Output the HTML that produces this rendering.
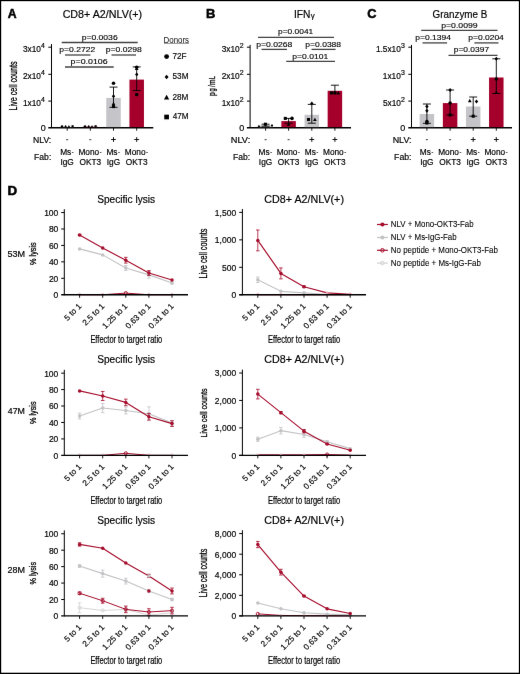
<!DOCTYPE html>
<html><head><meta charset="utf-8"><style>
html,body{margin:0;padding:0;background:#fff;}
#w{position:relative;width:520px;height:674px;overflow:hidden;}
#w svg{position:absolute;left:0;top:0;display:block;}
text{font-family:"Liberation Sans",sans-serif;}
</style></head><body>
<div id="w">
<svg id="m" width="520" height="674" viewBox="0 0 520 674">
<defs><filter id="f" x="0" y="0" width="520" height="674" filterUnits="userSpaceOnUse" color-interpolation-filters="sRGB"><feConvolveMatrix order="3" kernelMatrix="0.00163 0.03713 0.00163 0.03713 0.84497 0.03713 0.00163 0.03713 0.00163" divisor="1" edgeMode="none" preserveAlpha="false"/></filter></defs>
<rect width="520" height="674" fill="#fff"/>
<g filter="url(#f)">
<text x="7.89" y="18.40" font-size="12" font-weight="bold" stroke="#000" stroke-width="0.5" textLength="8.83" lengthAdjust="spacingAndGlyphs" fill="#000">A</text>
<text x="206.13" y="18.30" font-size="12" font-weight="bold" stroke="#000" stroke-width="0.5" textLength="9.35" lengthAdjust="spacingAndGlyphs" fill="#000">B</text>
<text x="367.28" y="18.40" font-size="12" font-weight="bold" stroke="#000" stroke-width="0.5" textLength="9.17" lengthAdjust="spacingAndGlyphs" fill="#000">C</text>
<text x="7.40" y="194.90" font-size="12" font-weight="bold" stroke="#000" stroke-width="0.5" textLength="9.66" lengthAdjust="spacingAndGlyphs" fill="#000">D</text>
<text x="62.65" y="17.90" font-size="10.3" stroke="#000" stroke-width="0.18" textLength="79.51" lengthAdjust="spacingAndGlyphs" fill="#000">CD8+ A2/NLV(+)</text>
<text transform="translate(16.60,109.90) rotate(-90)" x="-0.59" y="0" font-size="10.3" stroke="#000" stroke-width="0.3" textLength="49.15" lengthAdjust="spacingAndGlyphs" fill="#000">Live cell counts</text>
<line x1="51.50" y1="44.10" x2="51.50" y2="128.10" stroke="#000" stroke-width="1.0"/>
<line x1="48.30" y1="127.75" x2="153.30" y2="127.75" stroke="#000" stroke-width="1.3"/>
<line x1="48.30" y1="101.10" x2="51.50" y2="101.10" stroke="#000" stroke-width="1.0"/>
<line x1="48.30" y1="74.30" x2="51.50" y2="74.30" stroke="#000" stroke-width="1.0"/>
<line x1="48.30" y1="47.20" x2="51.50" y2="47.20" stroke="#000" stroke-width="1.0"/>
<line x1="67.20" y1="127.75" x2="67.20" y2="130.70" stroke="#000" stroke-width="0.9"/>
<line x1="90.30" y1="127.75" x2="90.30" y2="130.70" stroke="#000" stroke-width="0.9"/>
<line x1="113.50" y1="127.75" x2="113.50" y2="130.70" stroke="#000" stroke-width="0.9"/>
<line x1="136.70" y1="127.75" x2="136.70" y2="130.70" stroke="#000" stroke-width="0.9"/>
<text x="40.65" y="130.80" font-size="9.0" stroke="#000" stroke-width="0.18" textLength="5.01" lengthAdjust="spacingAndGlyphs" fill="#000">0</text>
<text x="41.11" y="102.10" font-size="7.0" stroke="#000" stroke-width="0.18" textLength="3.89" lengthAdjust="spacingAndGlyphs" fill="#000">4</text>
<text x="22.90" y="105.50" font-size="8.3" stroke="#000" stroke-width="0.18" textLength="18.00" lengthAdjust="spacingAndGlyphs" fill="#000">1x10</text>
<text x="41.11" y="75.30" font-size="7.0" stroke="#000" stroke-width="0.18" textLength="3.89" lengthAdjust="spacingAndGlyphs" fill="#000">4</text>
<text x="22.90" y="78.70" font-size="8.3" stroke="#000" stroke-width="0.18" textLength="18.00" lengthAdjust="spacingAndGlyphs" fill="#000">2x10</text>
<text x="41.11" y="48.20" font-size="7.0" stroke="#000" stroke-width="0.18" textLength="3.89" lengthAdjust="spacingAndGlyphs" fill="#000">4</text>
<text x="22.90" y="51.60" font-size="8.3" stroke="#000" stroke-width="0.18" textLength="18.00" lengthAdjust="spacingAndGlyphs" fill="#000">3x10</text>
<rect x="59.95" y="126.90" width="14.50" height="0.20" fill="#c5c4c9"/>
<rect x="83.05" y="126.70" width="14.50" height="0.40" fill="#a5002c"/>
<rect x="106.25" y="97.90" width="14.50" height="29.20" fill="#c5c4c9"/>
<rect x="129.45" y="79.60" width="14.50" height="47.50" fill="#a5002c"/>
<line x1="113.50" y1="87.10" x2="113.50" y2="107.30" stroke="#000" stroke-width="0.9"/>
<line x1="109.50" y1="87.10" x2="117.50" y2="87.10" stroke="#000" stroke-width="0.9"/>
<line x1="109.50" y1="107.30" x2="117.50" y2="107.30" stroke="#000" stroke-width="0.9"/>
<line x1="136.70" y1="66.90" x2="136.70" y2="90.60" stroke="#000" stroke-width="0.9"/>
<line x1="132.70" y1="66.90" x2="140.70" y2="66.90" stroke="#000" stroke-width="0.9"/>
<line x1="132.70" y1="90.60" x2="140.70" y2="90.60" stroke="#000" stroke-width="0.9"/>
<circle cx="113.50" cy="83.20" r="1.785" fill="#000" stroke="none" stroke-width="0"/>
<path d="M113.50 94.25L115.20 96.20L113.50 98.16L111.80 96.20Z" fill="#000"/>
<path d="M113.50 101.73L115.37 105.13L111.63 105.13Z" fill="#000"/>
<rect x="111.97" y="105.07" width="3.06" height="3.06" fill="#000"/>
<circle cx="136.70" cy="67.20" r="1.785" fill="#000" stroke="none" stroke-width="0"/>
<path d="M136.70 72.45L138.40 74.40L136.70 76.36L135.00 74.40Z" fill="#000"/>
<rect x="135.17" y="93.07" width="3.06" height="3.06" fill="#000"/>
<path d="M136.70 66.63L138.57 70.03L134.83 70.03Z" fill="#000"/>
<circle cx="62.00" cy="126.40" r="1.26" fill="#000" stroke="none" stroke-width="0"/>
<path d="M65.60 125.02L66.80 126.40L65.60 127.78L64.40 126.40Z" fill="#000"/>
<path d="M68.90 124.98L70.22 127.38L67.58 127.38Z" fill="#000"/>
<rect x="71.52" y="125.22" width="2.16" height="2.16" fill="#000"/>
<circle cx="85.00" cy="126.40" r="1.26" fill="#000" stroke="none" stroke-width="0"/>
<path d="M88.70 125.02L89.90 126.40L88.70 127.78L87.50 126.40Z" fill="#000"/>
<path d="M92.00 124.98L93.32 127.38L90.68 127.38Z" fill="#000"/>
<rect x="94.52" y="125.22" width="2.16" height="2.16" fill="#000"/>
<text x="81.65" y="39.60" font-size="8.0" stroke="#000" stroke-width="0.14" textLength="36.02" lengthAdjust="spacingAndGlyphs" fill="#000">p=0.0036</text>
<line x1="61.70" y1="42.50" x2="137.70" y2="42.50" stroke="#444" stroke-width="1.3"/>
<text x="59.35" y="51.70" font-size="8.0" stroke="#000" stroke-width="0.14" textLength="35.87" lengthAdjust="spacingAndGlyphs" fill="#000">p=0.2722</text>
<line x1="65.00" y1="55.00" x2="90.40" y2="55.00" stroke="#444" stroke-width="1.3"/>
<text x="105.75" y="51.70" font-size="8.0" stroke="#000" stroke-width="0.14" textLength="35.91" lengthAdjust="spacingAndGlyphs" fill="#000">p=0.0298</text>
<line x1="111.50" y1="55.00" x2="136.00" y2="55.00" stroke="#444" stroke-width="1.3"/>
<text x="70.64" y="63.90" font-size="8.0" stroke="#000" stroke-width="0.14" textLength="36.95" lengthAdjust="spacingAndGlyphs" fill="#000">p=0.0106</text>
<line x1="65.00" y1="67.00" x2="113.70" y2="67.00" stroke="#444" stroke-width="1.3"/>
<line x1="66.20" y1="139.70" x2="68.20" y2="139.70" stroke="#000" stroke-width="0.8"/>
<line x1="89.30" y1="139.70" x2="91.30" y2="139.70" stroke="#000" stroke-width="0.8"/>
<line x1="111.10" y1="139.50" x2="115.90" y2="139.50" stroke="#000" stroke-width="0.9"/>
<line x1="113.50" y1="137.10" x2="113.50" y2="141.90" stroke="#000" stroke-width="0.9"/>
<line x1="134.30" y1="139.50" x2="139.10" y2="139.50" stroke="#000" stroke-width="0.9"/>
<line x1="136.70" y1="137.10" x2="136.70" y2="141.90" stroke="#000" stroke-width="0.9"/>
<text x="60.13" y="155.00" font-size="8.3" stroke="#000" stroke-width="0.18" textLength="11.06" lengthAdjust="spacingAndGlyphs" fill="#000">Ms</text>
<line x1="71.89" y1="152.50" x2="73.49" y2="152.50" stroke="#222" stroke-width="0.75"/>
<text x="60.44" y="164.90" font-size="8.3" stroke="#000" stroke-width="0.18" textLength="13.38" lengthAdjust="spacingAndGlyphs" fill="#000">IgG</text>
<text x="78.38" y="155.00" font-size="8.3" stroke="#000" stroke-width="0.18" textLength="20.76" lengthAdjust="spacingAndGlyphs" fill="#000">Mono</text>
<line x1="99.84" y1="152.50" x2="101.44" y2="152.50" stroke="#222" stroke-width="0.75"/>
<text x="79.45" y="164.90" font-size="8.3" stroke="#000" stroke-width="0.18" textLength="21.68" lengthAdjust="spacingAndGlyphs" fill="#000">OKT3</text>
<text x="106.43" y="155.00" font-size="8.3" stroke="#000" stroke-width="0.18" textLength="11.06" lengthAdjust="spacingAndGlyphs" fill="#000">Ms</text>
<line x1="118.19" y1="152.50" x2="119.79" y2="152.50" stroke="#222" stroke-width="0.75"/>
<text x="106.74" y="164.90" font-size="8.3" stroke="#000" stroke-width="0.18" textLength="13.38" lengthAdjust="spacingAndGlyphs" fill="#000">IgG</text>
<text x="124.78" y="155.00" font-size="8.3" stroke="#000" stroke-width="0.18" textLength="20.76" lengthAdjust="spacingAndGlyphs" fill="#000">Mono</text>
<line x1="146.24" y1="152.50" x2="147.84" y2="152.50" stroke="#222" stroke-width="0.75"/>
<text x="125.85" y="164.90" font-size="8.3" stroke="#000" stroke-width="0.18" textLength="21.68" lengthAdjust="spacingAndGlyphs" fill="#000">OKT3</text>
<text x="33.09" y="142.50" font-size="8.3" stroke="#000" stroke-width="0.18" textLength="18.19" lengthAdjust="spacingAndGlyphs" fill="#000">NLV:</text>
<text x="34.10" y="159.90" font-size="8.3" stroke="#000" stroke-width="0.18" textLength="17.19" lengthAdjust="spacingAndGlyphs" fill="#000">Fab:</text>
<text x="163.55" y="42.50" font-size="8.2" stroke="#222" stroke-width="0.05" textLength="25.53" lengthAdjust="spacingAndGlyphs" fill="#222">Donors</text>
<line x1="164.00" y1="43.40" x2="189.00" y2="43.40" stroke="#777" stroke-width="0.8"/>
<circle cx="166.60" cy="56.60" r="2.415" fill="#000" stroke="none" stroke-width="0"/>
<text x="172.48" y="58.90" font-size="8.2" stroke="#000" stroke-width="0.15" textLength="14.13" lengthAdjust="spacingAndGlyphs" fill="#000">72F</text>
<path d="M166.60 74.66L168.55 76.90L166.60 79.14L164.65 76.90Z" fill="#000"/>
<text x="172.57" y="79.20" font-size="8.2" stroke="#000" stroke-width="0.15" textLength="15.95" lengthAdjust="spacingAndGlyphs" fill="#000">53M</text>
<path d="M166.60 94.66L169.24 99.46L163.96 99.46Z" fill="#000"/>
<text x="172.49" y="99.60" font-size="8.2" stroke="#000" stroke-width="0.15" textLength="15.95" lengthAdjust="spacingAndGlyphs" fill="#000">28M</text>
<rect x="164.26" y="114.66" width="4.68" height="4.68" fill="#000"/>
<text x="172.71" y="119.30" font-size="8.2" stroke="#000" stroke-width="0.15" textLength="15.95" lengthAdjust="spacingAndGlyphs" fill="#000">47M</text>
<text x="293.96" y="18.00" font-size="10.4" stroke="#000" stroke-width="0.18" textLength="16.47" lengthAdjust="spacingAndGlyphs" fill="#000">IFN</text>
<text x="310.77" y="18.20" font-size="7.6" stroke="#000" stroke-width="0.18" textLength="3.96" lengthAdjust="spacingAndGlyphs" fill="#000">γ</text>
<text transform="translate(215.10,95.60) rotate(-90)" x="-0.43" y="0" font-size="9.6" stroke="#000" stroke-width="0.3" textLength="3.71" lengthAdjust="spacingAndGlyphs" fill="#000">p</text>
<text transform="translate(215.10,91.30) rotate(-90)" x="-0.24" y="0" font-size="9.6" stroke="#000" stroke-width="0.3" textLength="3.21" lengthAdjust="spacingAndGlyphs" fill="#000">g</text>
<text transform="translate(215.10,86.90) rotate(-90)" x="-0.00" y="0" font-size="9.6" stroke="#000" stroke-width="0.3" textLength="1.70" lengthAdjust="spacingAndGlyphs" fill="#000">/</text>
<text transform="translate(215.10,84.70) rotate(-90)" x="-0.43" y="0" font-size="9.6" stroke="#000" stroke-width="0.3" textLength="5.47" lengthAdjust="spacingAndGlyphs" fill="#000">m</text>
<text transform="translate(215.10,78.60) rotate(-90)" x="-0.43" y="0" font-size="9.6" stroke="#000" stroke-width="0.3" textLength="2.90" lengthAdjust="spacingAndGlyphs" fill="#000">L</text>
<line x1="250.10" y1="44.90" x2="250.10" y2="128.10" stroke="#000" stroke-width="1.0"/>
<line x1="246.90" y1="127.75" x2="351.00" y2="127.75" stroke="#000" stroke-width="1.3"/>
<line x1="246.90" y1="101.10" x2="250.10" y2="101.10" stroke="#000" stroke-width="1.0"/>
<line x1="246.90" y1="74.30" x2="250.10" y2="74.30" stroke="#000" stroke-width="1.0"/>
<line x1="246.90" y1="47.20" x2="250.10" y2="47.20" stroke="#000" stroke-width="1.0"/>
<line x1="265.60" y1="127.75" x2="265.60" y2="130.70" stroke="#000" stroke-width="0.9"/>
<line x1="288.60" y1="127.75" x2="288.60" y2="130.70" stroke="#000" stroke-width="0.9"/>
<line x1="311.80" y1="127.75" x2="311.80" y2="130.70" stroke="#000" stroke-width="0.9"/>
<line x1="334.90" y1="127.75" x2="334.90" y2="130.70" stroke="#000" stroke-width="0.9"/>
<text x="239.15" y="130.80" font-size="9.0" stroke="#000" stroke-width="0.18" textLength="5.01" lengthAdjust="spacingAndGlyphs" fill="#000">0</text>
<text x="239.76" y="102.10" font-size="7.0" stroke="#000" stroke-width="0.18" textLength="3.89" lengthAdjust="spacingAndGlyphs" fill="#000">2</text>
<text x="221.74" y="105.50" font-size="8.3" stroke="#000" stroke-width="0.18" textLength="18.00" lengthAdjust="spacingAndGlyphs" fill="#000">1x10</text>
<text x="239.76" y="75.30" font-size="7.0" stroke="#000" stroke-width="0.18" textLength="3.89" lengthAdjust="spacingAndGlyphs" fill="#000">2</text>
<text x="221.74" y="78.70" font-size="8.3" stroke="#000" stroke-width="0.18" textLength="18.00" lengthAdjust="spacingAndGlyphs" fill="#000">2x10</text>
<text x="239.76" y="48.20" font-size="7.0" stroke="#000" stroke-width="0.18" textLength="3.89" lengthAdjust="spacingAndGlyphs" fill="#000">2</text>
<text x="221.74" y="51.60" font-size="8.3" stroke="#000" stroke-width="0.18" textLength="18.00" lengthAdjust="spacingAndGlyphs" fill="#000">3x10</text>
<rect x="258.35" y="125.40" width="14.50" height="1.70" fill="#c5c4c9"/>
<rect x="281.35" y="121.10" width="14.50" height="6.00" fill="#a5002c"/>
<rect x="304.55" y="114.80" width="14.50" height="12.30" fill="#c5c4c9"/>
<rect x="327.65" y="90.80" width="14.50" height="36.30" fill="#a5002c"/>
<line x1="265.60" y1="124.20" x2="265.60" y2="126.20" stroke="#000" stroke-width="0.9"/>
<line x1="261.60" y1="124.20" x2="269.60" y2="124.20" stroke="#000" stroke-width="0.9"/>
<line x1="261.60" y1="126.20" x2="269.60" y2="126.20" stroke="#000" stroke-width="0.9"/>
<line x1="288.60" y1="118.40" x2="288.60" y2="123.20" stroke="#000" stroke-width="0.9"/>
<line x1="284.60" y1="118.40" x2="292.60" y2="118.40" stroke="#000" stroke-width="0.9"/>
<line x1="284.60" y1="123.20" x2="292.60" y2="123.20" stroke="#000" stroke-width="0.9"/>
<line x1="311.80" y1="104.40" x2="311.80" y2="123.20" stroke="#000" stroke-width="0.9"/>
<line x1="307.80" y1="104.40" x2="315.80" y2="104.40" stroke="#000" stroke-width="0.9"/>
<line x1="307.80" y1="123.20" x2="315.80" y2="123.20" stroke="#000" stroke-width="0.9"/>
<line x1="334.90" y1="85.20" x2="334.90" y2="93.20" stroke="#000" stroke-width="0.9"/>
<line x1="330.90" y1="85.20" x2="338.90" y2="85.20" stroke="#000" stroke-width="0.9"/>
<path d="M258.90 124.68L260.22 127.08L257.58 127.08Z" fill="#000"/>
<rect x="263.87" y="122.67" width="3.06" height="3.06" fill="#000"/>
<path d="M272.00 124.12L273.20 125.50L272.00 126.88L270.80 125.50Z" fill="#000"/>
<rect x="283.77" y="116.87" width="3.06" height="3.06" fill="#000"/>
<circle cx="292.00" cy="118.40" r="1.785" fill="#000" stroke="none" stroke-width="0"/>
<path d="M288.60 122.33L290.47 125.73L286.73 125.73Z" fill="#000"/>
<path d="M311.80 101.55L313.50 103.50L311.80 105.45L310.10 103.50Z" fill="#000"/>
<rect x="306.97" y="117.97" width="3.06" height="3.06" fill="#000"/>
<path d="M314.90 117.63L316.77 121.03L313.03 121.03Z" fill="#000"/>
<rect x="329.97" y="91.37" width="3.06" height="3.06" fill="#000"/>
<circle cx="334.90" cy="92.90" r="1.785" fill="#000" stroke="none" stroke-width="0"/>
<path d="M338.30 91.03L340.17 94.43L336.43 94.43Z" fill="#000"/>
<text x="278.06" y="34.40" font-size="8.0" stroke="#000" stroke-width="0.14" textLength="35.25" lengthAdjust="spacingAndGlyphs" fill="#000">p=0.0041</text>
<line x1="258.00" y1="37.30" x2="334.00" y2="37.30" stroke="#444" stroke-width="1.3"/>
<text x="256.25" y="46.90" font-size="8.0" stroke="#000" stroke-width="0.14" textLength="36.02" lengthAdjust="spacingAndGlyphs" fill="#000">p=0.0268</text>
<line x1="261.50" y1="49.40" x2="287.00" y2="49.40" stroke="#444" stroke-width="1.3"/>
<text x="305.36" y="46.90" font-size="8.0" stroke="#000" stroke-width="0.14" textLength="35.71" lengthAdjust="spacingAndGlyphs" fill="#000">p=0.0388</text>
<line x1="311.50" y1="49.40" x2="335.60" y2="49.40" stroke="#444" stroke-width="1.3"/>
<text x="292.25" y="58.70" font-size="8.0" stroke="#000" stroke-width="0.14" textLength="35.97" lengthAdjust="spacingAndGlyphs" fill="#000">p=0.0101</text>
<line x1="286.20" y1="61.30" x2="335.00" y2="61.30" stroke="#444" stroke-width="1.3"/>
<line x1="264.60" y1="139.70" x2="266.60" y2="139.70" stroke="#000" stroke-width="0.8"/>
<line x1="287.60" y1="139.70" x2="289.60" y2="139.70" stroke="#000" stroke-width="0.8"/>
<line x1="309.40" y1="139.50" x2="314.20" y2="139.50" stroke="#000" stroke-width="0.9"/>
<line x1="311.80" y1="137.10" x2="311.80" y2="141.90" stroke="#000" stroke-width="0.9"/>
<line x1="332.50" y1="139.50" x2="337.30" y2="139.50" stroke="#000" stroke-width="0.9"/>
<line x1="334.90" y1="137.10" x2="334.90" y2="141.90" stroke="#000" stroke-width="0.9"/>
<text x="258.53" y="155.00" font-size="8.3" stroke="#000" stroke-width="0.18" textLength="11.06" lengthAdjust="spacingAndGlyphs" fill="#000">Ms</text>
<line x1="270.29" y1="152.50" x2="271.89" y2="152.50" stroke="#222" stroke-width="0.75"/>
<text x="258.84" y="164.90" font-size="8.3" stroke="#000" stroke-width="0.18" textLength="13.38" lengthAdjust="spacingAndGlyphs" fill="#000">IgG</text>
<text x="276.68" y="155.00" font-size="8.3" stroke="#000" stroke-width="0.18" textLength="20.76" lengthAdjust="spacingAndGlyphs" fill="#000">Mono</text>
<line x1="298.14" y1="152.50" x2="299.74" y2="152.50" stroke="#222" stroke-width="0.75"/>
<text x="277.75" y="164.90" font-size="8.3" stroke="#000" stroke-width="0.18" textLength="21.68" lengthAdjust="spacingAndGlyphs" fill="#000">OKT3</text>
<text x="304.73" y="155.00" font-size="8.3" stroke="#000" stroke-width="0.18" textLength="11.06" lengthAdjust="spacingAndGlyphs" fill="#000">Ms</text>
<line x1="316.49" y1="152.50" x2="318.09" y2="152.50" stroke="#222" stroke-width="0.75"/>
<text x="305.04" y="164.90" font-size="8.3" stroke="#000" stroke-width="0.18" textLength="13.38" lengthAdjust="spacingAndGlyphs" fill="#000">IgG</text>
<text x="322.98" y="155.00" font-size="8.3" stroke="#000" stroke-width="0.18" textLength="20.76" lengthAdjust="spacingAndGlyphs" fill="#000">Mono</text>
<line x1="344.44" y1="152.50" x2="346.04" y2="152.50" stroke="#222" stroke-width="0.75"/>
<text x="324.05" y="164.90" font-size="8.3" stroke="#000" stroke-width="0.18" textLength="21.68" lengthAdjust="spacingAndGlyphs" fill="#000">OKT3</text>
<text x="230.74" y="142.50" font-size="8.3" stroke="#000" stroke-width="0.18" textLength="19.50" lengthAdjust="spacingAndGlyphs" fill="#000">NLV:</text>
<text x="233.10" y="159.90" font-size="8.3" stroke="#000" stroke-width="0.18" textLength="17.08" lengthAdjust="spacingAndGlyphs" fill="#000">Fab:</text>
<text x="432.61" y="18.40" font-size="10.3" stroke="#000" stroke-width="0.18" textLength="54.72" lengthAdjust="spacingAndGlyphs" fill="#000">Granzyme B</text>
<line x1="411.50" y1="44.90" x2="411.50" y2="128.10" stroke="#000" stroke-width="1.0"/>
<line x1="408.30" y1="127.75" x2="512.00" y2="127.75" stroke="#000" stroke-width="1.3"/>
<line x1="408.30" y1="101.10" x2="411.50" y2="101.10" stroke="#000" stroke-width="1.0"/>
<line x1="408.30" y1="74.30" x2="411.50" y2="74.30" stroke="#000" stroke-width="1.0"/>
<line x1="408.30" y1="47.20" x2="411.50" y2="47.20" stroke="#000" stroke-width="1.0"/>
<line x1="426.90" y1="127.75" x2="426.90" y2="130.70" stroke="#000" stroke-width="0.9"/>
<line x1="450.10" y1="127.75" x2="450.10" y2="130.70" stroke="#000" stroke-width="0.9"/>
<line x1="473.20" y1="127.75" x2="473.20" y2="130.70" stroke="#000" stroke-width="0.9"/>
<line x1="496.30" y1="127.75" x2="496.30" y2="130.70" stroke="#000" stroke-width="0.9"/>
<text x="400.35" y="130.80" font-size="9.0" stroke="#000" stroke-width="0.18" textLength="5.01" lengthAdjust="spacingAndGlyphs" fill="#000">0</text>
<text x="400.96" y="102.10" font-size="7.0" stroke="#000" stroke-width="0.18" textLength="3.89" lengthAdjust="spacingAndGlyphs" fill="#000">2</text>
<text x="382.94" y="105.50" font-size="8.3" stroke="#000" stroke-width="0.18" textLength="18.00" lengthAdjust="spacingAndGlyphs" fill="#000">5x10</text>
<text x="400.92" y="75.30" font-size="7.0" stroke="#000" stroke-width="0.18" textLength="3.89" lengthAdjust="spacingAndGlyphs" fill="#000">3</text>
<text x="382.81" y="78.70" font-size="8.3" stroke="#000" stroke-width="0.18" textLength="18.00" lengthAdjust="spacingAndGlyphs" fill="#000">1x10</text>
<text x="400.92" y="48.20" font-size="7.0" stroke="#000" stroke-width="0.18" textLength="3.89" lengthAdjust="spacingAndGlyphs" fill="#000">3</text>
<text x="375.89" y="51.60" font-size="8.3" stroke="#000" stroke-width="0.18" textLength="24.92" lengthAdjust="spacingAndGlyphs" fill="#000">1.5x10</text>
<rect x="419.65" y="114.00" width="14.50" height="13.10" fill="#c5c4c9"/>
<rect x="442.85" y="103.10" width="14.50" height="24.00" fill="#a5002c"/>
<rect x="465.95" y="106.50" width="14.50" height="20.60" fill="#c5c4c9"/>
<rect x="489.05" y="77.50" width="14.50" height="49.60" fill="#a5002c"/>
<line x1="426.90" y1="104.00" x2="426.90" y2="123.30" stroke="#000" stroke-width="0.9"/>
<line x1="422.90" y1="104.00" x2="430.90" y2="104.00" stroke="#000" stroke-width="0.9"/>
<line x1="422.90" y1="123.30" x2="430.90" y2="123.30" stroke="#000" stroke-width="0.9"/>
<line x1="450.10" y1="90.00" x2="450.10" y2="115.00" stroke="#000" stroke-width="0.9"/>
<line x1="446.10" y1="90.00" x2="454.10" y2="90.00" stroke="#000" stroke-width="0.9"/>
<line x1="446.10" y1="115.00" x2="454.10" y2="115.00" stroke="#000" stroke-width="0.9"/>
<line x1="473.20" y1="97.00" x2="473.20" y2="116.20" stroke="#000" stroke-width="0.9"/>
<line x1="469.20" y1="97.00" x2="477.20" y2="97.00" stroke="#000" stroke-width="0.9"/>
<line x1="469.20" y1="116.20" x2="477.20" y2="116.20" stroke="#000" stroke-width="0.9"/>
<line x1="496.30" y1="58.80" x2="496.30" y2="93.50" stroke="#000" stroke-width="0.9"/>
<line x1="492.30" y1="58.80" x2="500.30" y2="58.80" stroke="#000" stroke-width="0.9"/>
<line x1="492.30" y1="93.50" x2="500.30" y2="93.50" stroke="#000" stroke-width="0.9"/>
<path d="M426.90 104.55L428.60 106.50L426.90 108.45L425.20 106.50Z" fill="#000"/>
<path d="M426.90 108.84L428.60 110.80L426.90 112.75L425.20 110.80Z" fill="#000"/>
<rect x="425.37" y="121.47" width="3.06" height="3.06" fill="#000"/>
<circle cx="426.90" cy="121.50" r="1.785" fill="#000" stroke="none" stroke-width="0"/>
<circle cx="450.10" cy="103.00" r="1.785" fill="#000" stroke="none" stroke-width="0"/>
<path d="M450.10 88.05L451.80 90.00L450.10 91.95L448.40 90.00Z" fill="#000"/>
<rect x="448.57" y="113.47" width="3.06" height="3.06" fill="#000"/>
<path d="M469.80 98.73L471.67 102.13L467.93 102.13Z" fill="#000"/>
<path d="M476.50 99.55L478.20 101.50L476.50 103.45L474.80 101.50Z" fill="#000"/>
<rect x="471.67" y="114.67" width="3.06" height="3.06" fill="#000"/>
<circle cx="496.30" cy="79.00" r="1.785" fill="#000" stroke="none" stroke-width="0"/>
<path d="M496.30 90.63L498.17 94.03L494.43 94.03Z" fill="#000"/>
<path d="M496.30 56.84L498.00 58.80L496.30 60.75L494.60 58.80Z" fill="#000"/>
<text x="441.25" y="27.70" font-size="8.0" stroke="#000" stroke-width="0.14" textLength="36.36" lengthAdjust="spacingAndGlyphs" fill="#000">p=0.0099</text>
<line x1="421.20" y1="30.40" x2="497.50" y2="30.40" stroke="#444" stroke-width="1.3"/>
<text x="415.36" y="40.00" font-size="8.0" stroke="#000" stroke-width="0.14" textLength="35.59" lengthAdjust="spacingAndGlyphs" fill="#000">p=0.1394</text>
<line x1="422.50" y1="42.90" x2="447.10" y2="42.90" stroke="#444" stroke-width="1.3"/>
<text x="468.26" y="40.00" font-size="8.0" stroke="#000" stroke-width="0.14" textLength="35.59" lengthAdjust="spacingAndGlyphs" fill="#000">p=0.0204</text>
<line x1="474.40" y1="42.90" x2="498.50" y2="42.90" stroke="#444" stroke-width="1.3"/>
<text x="453.76" y="51.70" font-size="8.0" stroke="#000" stroke-width="0.14" textLength="35.36" lengthAdjust="spacingAndGlyphs" fill="#000">p=0.0397</text>
<line x1="448.50" y1="55.40" x2="497.50" y2="55.40" stroke="#444" stroke-width="1.3"/>
<line x1="425.90" y1="139.70" x2="427.90" y2="139.70" stroke="#000" stroke-width="0.8"/>
<line x1="449.10" y1="139.70" x2="451.10" y2="139.70" stroke="#000" stroke-width="0.8"/>
<line x1="470.80" y1="139.50" x2="475.60" y2="139.50" stroke="#000" stroke-width="0.9"/>
<line x1="473.20" y1="137.10" x2="473.20" y2="141.90" stroke="#000" stroke-width="0.9"/>
<line x1="493.90" y1="139.50" x2="498.70" y2="139.50" stroke="#000" stroke-width="0.9"/>
<line x1="496.30" y1="137.10" x2="496.30" y2="141.90" stroke="#000" stroke-width="0.9"/>
<text x="419.83" y="155.00" font-size="8.3" stroke="#000" stroke-width="0.18" textLength="11.06" lengthAdjust="spacingAndGlyphs" fill="#000">Ms</text>
<line x1="431.59" y1="152.50" x2="433.19" y2="152.50" stroke="#222" stroke-width="0.75"/>
<text x="420.14" y="164.90" font-size="8.3" stroke="#000" stroke-width="0.18" textLength="13.38" lengthAdjust="spacingAndGlyphs" fill="#000">IgG</text>
<text x="438.18" y="155.00" font-size="8.3" stroke="#000" stroke-width="0.18" textLength="20.76" lengthAdjust="spacingAndGlyphs" fill="#000">Mono</text>
<line x1="459.64" y1="152.50" x2="461.24" y2="152.50" stroke="#222" stroke-width="0.75"/>
<text x="439.25" y="164.90" font-size="8.3" stroke="#000" stroke-width="0.18" textLength="21.68" lengthAdjust="spacingAndGlyphs" fill="#000">OKT3</text>
<text x="466.13" y="155.00" font-size="8.3" stroke="#000" stroke-width="0.18" textLength="11.06" lengthAdjust="spacingAndGlyphs" fill="#000">Ms</text>
<line x1="477.89" y1="152.50" x2="479.49" y2="152.50" stroke="#222" stroke-width="0.75"/>
<text x="466.44" y="164.90" font-size="8.3" stroke="#000" stroke-width="0.18" textLength="13.38" lengthAdjust="spacingAndGlyphs" fill="#000">IgG</text>
<text x="484.38" y="155.00" font-size="8.3" stroke="#000" stroke-width="0.18" textLength="20.76" lengthAdjust="spacingAndGlyphs" fill="#000">Mono</text>
<line x1="505.84" y1="152.50" x2="507.44" y2="152.50" stroke="#222" stroke-width="0.75"/>
<text x="485.45" y="164.90" font-size="8.3" stroke="#000" stroke-width="0.18" textLength="21.68" lengthAdjust="spacingAndGlyphs" fill="#000">OKT3</text>
<text x="392.67" y="142.50" font-size="8.3" stroke="#000" stroke-width="0.18" textLength="18.84" lengthAdjust="spacingAndGlyphs" fill="#000">NLV:</text>
<text x="394.09" y="159.90" font-size="8.3" stroke="#000" stroke-width="0.18" textLength="17.40" lengthAdjust="spacingAndGlyphs" fill="#000">Fab:</text>
<polyline points="79.60,294.75 102.70,294.75 125.80,294.75 148.90,294.75 172.00,294.75" fill="none" stroke="#d2d2d4" stroke-width="0.9" stroke-linejoin="round"/>
<circle cx="79.60" cy="294.15" r="1.3" fill="#ececee" stroke="none" stroke-width="0"/>
<circle cx="102.70" cy="294.15" r="1.3" fill="#ececee" stroke="none" stroke-width="0"/>
<circle cx="125.80" cy="294.15" r="1.3" fill="#ececee" stroke="none" stroke-width="0"/>
<circle cx="148.90" cy="294.15" r="1.3" fill="#ececee" stroke="none" stroke-width="0"/>
<circle cx="172.00" cy="294.15" r="1.3" fill="#ececee" stroke="none" stroke-width="0"/>
<polyline points="79.60,294.75 102.70,294.75 125.80,293.11 148.90,294.75 172.00,294.75" fill="none" stroke="#a60f2e" stroke-width="1.0" stroke-linejoin="round"/>
<circle cx="79.60" cy="294.15" r="1.3" fill="#f2c6cf" stroke="none" stroke-width="0"/>
<circle cx="102.70" cy="294.15" r="1.3" fill="#f2c6cf" stroke="none" stroke-width="0"/>
<circle cx="125.80" cy="293.11" r="1.6" fill="none" stroke="#a60f2e" stroke-width="0.9"/>
<circle cx="148.90" cy="294.15" r="1.3" fill="#f2c6cf" stroke="none" stroke-width="0"/>
<circle cx="172.00" cy="294.15" r="1.3" fill="#f2c6cf" stroke="none" stroke-width="0"/>
<polyline points="79.60,248.88 102.70,254.88 125.80,268.04 148.90,274.86 172.00,282.91" fill="none" stroke="#c3c3c6" stroke-width="1.1" stroke-linejoin="round"/>
<line x1="125.80" y1="265.57" x2="125.80" y2="270.50" stroke="#c3c3c6" stroke-width="0.8"/>
<line x1="124.00" y1="265.57" x2="127.60" y2="265.57" stroke="#c3c3c6" stroke-width="0.8"/>
<line x1="124.00" y1="270.50" x2="127.60" y2="270.50" stroke="#c3c3c6" stroke-width="0.8"/>
<line x1="148.90" y1="271.57" x2="148.90" y2="278.15" stroke="#c3c3c6" stroke-width="0.8"/>
<line x1="147.10" y1="271.57" x2="150.70" y2="271.57" stroke="#c3c3c6" stroke-width="0.8"/>
<line x1="147.10" y1="278.15" x2="150.70" y2="278.15" stroke="#c3c3c6" stroke-width="0.8"/>
<line x1="172.00" y1="281.68" x2="172.00" y2="284.15" stroke="#c3c3c6" stroke-width="0.8"/>
<line x1="170.20" y1="281.68" x2="173.80" y2="281.68" stroke="#c3c3c6" stroke-width="0.8"/>
<line x1="170.20" y1="284.15" x2="173.80" y2="284.15" stroke="#c3c3c6" stroke-width="0.8"/>
<circle cx="79.60" cy="248.88" r="1.75" fill="#c3c3c6" stroke="none" stroke-width="0"/>
<circle cx="102.70" cy="254.88" r="1.75" fill="#c3c3c6" stroke="none" stroke-width="0"/>
<circle cx="125.80" cy="268.04" r="1.75" fill="#c3c3c6" stroke="none" stroke-width="0"/>
<circle cx="148.90" cy="274.86" r="1.75" fill="#c3c3c6" stroke="none" stroke-width="0"/>
<circle cx="172.00" cy="282.91" r="1.75" fill="#c3c3c6" stroke="none" stroke-width="0"/>
<polyline points="79.60,235.07 102.70,247.90 125.80,260.23 148.90,273.05 172.00,279.95" fill="none" stroke="#a60f2e" stroke-width="1.15" stroke-linejoin="round"/>
<line x1="79.60" y1="234.42" x2="79.60" y2="235.73" stroke="#a60f2e" stroke-width="0.8"/>
<line x1="77.80" y1="234.42" x2="81.40" y2="234.42" stroke="#a60f2e" stroke-width="0.8"/>
<line x1="77.80" y1="235.73" x2="81.40" y2="235.73" stroke="#a60f2e" stroke-width="0.8"/>
<line x1="125.80" y1="257.35" x2="125.80" y2="263.10" stroke="#a60f2e" stroke-width="0.8"/>
<line x1="124.00" y1="257.35" x2="127.60" y2="257.35" stroke="#a60f2e" stroke-width="0.8"/>
<line x1="124.00" y1="263.10" x2="127.60" y2="263.10" stroke="#a60f2e" stroke-width="0.8"/>
<line x1="148.90" y1="270.58" x2="148.90" y2="275.52" stroke="#a60f2e" stroke-width="0.8"/>
<line x1="147.10" y1="270.58" x2="150.70" y2="270.58" stroke="#a60f2e" stroke-width="0.8"/>
<line x1="147.10" y1="275.52" x2="150.70" y2="275.52" stroke="#a60f2e" stroke-width="0.8"/>
<circle cx="79.60" cy="235.07" r="1.75" fill="#a60f2e" stroke="none" stroke-width="0"/>
<circle cx="102.70" cy="247.90" r="1.75" fill="#a60f2e" stroke="none" stroke-width="0"/>
<circle cx="125.80" cy="260.23" r="1.75" fill="#a60f2e" stroke="none" stroke-width="0"/>
<circle cx="148.90" cy="273.05" r="1.75" fill="#a60f2e" stroke="none" stroke-width="0"/>
<circle cx="172.00" cy="279.95" r="1.75" fill="#a60f2e" stroke="none" stroke-width="0"/>
<line x1="64.30" y1="209.20" x2="64.30" y2="295.25" stroke="#000" stroke-width="1.0"/>
<line x1="61.20" y1="294.75" x2="188.00" y2="294.75" stroke="#000" stroke-width="1.3"/>
<line x1="61.20" y1="278.31" x2="64.30" y2="278.31" stroke="#000" stroke-width="1.0"/>
<line x1="61.20" y1="261.87" x2="64.30" y2="261.87" stroke="#000" stroke-width="1.0"/>
<line x1="61.20" y1="245.43" x2="64.30" y2="245.43" stroke="#000" stroke-width="1.0"/>
<line x1="61.20" y1="228.99" x2="64.30" y2="228.99" stroke="#000" stroke-width="1.0"/>
<line x1="61.20" y1="212.55" x2="64.30" y2="212.55" stroke="#000" stroke-width="1.0"/>
<text x="53.61" y="298.15" font-size="8.5" stroke="#000" stroke-width="0.18" textLength="4.73" lengthAdjust="spacingAndGlyphs" fill="#000">0</text>
<text x="48.88" y="281.71" font-size="8.5" stroke="#000" stroke-width="0.18" textLength="9.45" lengthAdjust="spacingAndGlyphs" fill="#000">20</text>
<text x="48.88" y="265.27" font-size="8.5" stroke="#000" stroke-width="0.18" textLength="9.45" lengthAdjust="spacingAndGlyphs" fill="#000">40</text>
<text x="48.88" y="248.83" font-size="8.5" stroke="#000" stroke-width="0.18" textLength="9.45" lengthAdjust="spacingAndGlyphs" fill="#000">60</text>
<text x="48.88" y="232.39" font-size="8.5" stroke="#000" stroke-width="0.18" textLength="9.45" lengthAdjust="spacingAndGlyphs" fill="#000">80</text>
<text x="44.15" y="215.95" font-size="8.5" stroke="#000" stroke-width="0.18" textLength="14.18" lengthAdjust="spacingAndGlyphs" fill="#000">100</text>
<line x1="79.60" y1="294.75" x2="79.60" y2="297.75" stroke="#000" stroke-width="0.9"/>
<line x1="102.70" y1="294.75" x2="102.70" y2="297.75" stroke="#000" stroke-width="0.9"/>
<line x1="125.80" y1="294.75" x2="125.80" y2="297.75" stroke="#000" stroke-width="0.9"/>
<line x1="148.90" y1="294.75" x2="148.90" y2="297.75" stroke="#000" stroke-width="0.9"/>
<line x1="172.00" y1="294.75" x2="172.00" y2="297.75" stroke="#000" stroke-width="0.9"/>
<text transform="translate(81.90,306.65) rotate(-45)" x="0" y="0" font-size="8.2" text-anchor="end" stroke="#000" stroke-width="0.18">5 to 1</text>
<text transform="translate(105.00,306.65) rotate(-45)" x="0" y="0" font-size="8.2" text-anchor="end" stroke="#000" stroke-width="0.18">2.5 to 1</text>
<text transform="translate(128.10,306.65) rotate(-45)" x="0" y="0" font-size="8.2" text-anchor="end" stroke="#000" stroke-width="0.18">1.25 to 1</text>
<text transform="translate(151.20,306.65) rotate(-45)" x="0" y="0" font-size="8.2" text-anchor="end" stroke="#000" stroke-width="0.18">0.63 to 1</text>
<text transform="translate(174.30,306.65) rotate(-45)" x="0" y="0" font-size="8.2" text-anchor="end" stroke="#000" stroke-width="0.18">0.31 to 1</text>
<text x="90.39" y="342.60" font-size="10.6" stroke="#000" stroke-width="0.22" textLength="71.83" lengthAdjust="spacingAndGlyphs" fill="#000">Effector to target ratio</text>
<text x="97.24" y="203.10" font-size="10.0" stroke="#000" stroke-width="0.18" textLength="57.92" lengthAdjust="spacingAndGlyphs" fill="#000">Specific lysis</text>
<text transform="translate(35.50,264.70) rotate(-90)" x="-0.26" y="0" font-size="9.6" stroke="#000" stroke-width="0.3" textLength="22.63" lengthAdjust="spacingAndGlyphs" fill="#000">% lysis</text>
<polyline points="257.80,294.75 280.90,294.75 304.00,294.75 327.10,294.75 350.20,294.75" fill="none" stroke="#d2d2d4" stroke-width="0.9" stroke-linejoin="round"/>
<circle cx="257.80" cy="294.15" r="1.3" fill="#ececee" stroke="none" stroke-width="0"/>
<circle cx="280.90" cy="294.15" r="1.3" fill="#ececee" stroke="none" stroke-width="0"/>
<circle cx="304.00" cy="294.15" r="1.3" fill="#ececee" stroke="none" stroke-width="0"/>
<circle cx="327.10" cy="294.15" r="1.3" fill="#ececee" stroke="none" stroke-width="0"/>
<circle cx="350.20" cy="294.15" r="1.3" fill="#ececee" stroke="none" stroke-width="0"/>
<polyline points="257.80,294.75 280.90,294.75 304.00,294.75 327.10,294.75 350.20,294.75" fill="none" stroke="#a60f2e" stroke-width="1.0" stroke-linejoin="round"/>
<circle cx="257.80" cy="294.15" r="1.3" fill="#f2c6cf" stroke="none" stroke-width="0"/>
<circle cx="280.90" cy="294.15" r="1.3" fill="#f2c6cf" stroke="none" stroke-width="0"/>
<circle cx="304.00" cy="294.15" r="1.3" fill="#f2c6cf" stroke="none" stroke-width="0"/>
<circle cx="327.10" cy="294.15" r="1.3" fill="#f2c6cf" stroke="none" stroke-width="0"/>
<circle cx="350.20" cy="294.15" r="1.3" fill="#f2c6cf" stroke="none" stroke-width="0"/>
<polyline points="257.80,279.76 280.90,291.35 304.00,292.83 327.10,294.48 350.20,294.59" fill="none" stroke="#c3c3c6" stroke-width="1.1" stroke-linejoin="round"/>
<line x1="257.80" y1="277.02" x2="257.80" y2="282.51" stroke="#c3c3c6" stroke-width="0.8"/>
<line x1="256.00" y1="277.02" x2="259.60" y2="277.02" stroke="#c3c3c6" stroke-width="0.8"/>
<line x1="256.00" y1="282.51" x2="259.60" y2="282.51" stroke="#c3c3c6" stroke-width="0.8"/>
<circle cx="257.80" cy="279.76" r="1.75" fill="#c3c3c6" stroke="none" stroke-width="0"/>
<circle cx="280.90" cy="291.35" r="1.75" fill="#c3c3c6" stroke="none" stroke-width="0"/>
<circle cx="304.00" cy="292.83" r="1.75" fill="#c3c3c6" stroke="none" stroke-width="0"/>
<circle cx="327.10" cy="294.15" r="1.3" fill="#e4e4e6" stroke="none" stroke-width="0"/>
<circle cx="350.20" cy="294.15" r="1.3" fill="#e4e4e6" stroke="none" stroke-width="0"/>
<polyline points="257.80,240.40 280.90,273.39 304.00,286.79 327.10,292.83 350.20,294.20" fill="none" stroke="#a60f2e" stroke-width="1.15" stroke-linejoin="round"/>
<line x1="257.80" y1="229.97" x2="257.80" y2="250.83" stroke="#a60f2e" stroke-width="0.8"/>
<line x1="256.00" y1="229.97" x2="259.60" y2="229.97" stroke="#a60f2e" stroke-width="0.8"/>
<line x1="256.00" y1="250.83" x2="259.60" y2="250.83" stroke="#a60f2e" stroke-width="0.8"/>
<line x1="280.90" y1="267.90" x2="280.90" y2="278.88" stroke="#a60f2e" stroke-width="0.8"/>
<line x1="279.10" y1="267.90" x2="282.70" y2="267.90" stroke="#a60f2e" stroke-width="0.8"/>
<line x1="279.10" y1="278.88" x2="282.70" y2="278.88" stroke="#a60f2e" stroke-width="0.8"/>
<line x1="304.00" y1="285.97" x2="304.00" y2="287.61" stroke="#a60f2e" stroke-width="0.8"/>
<line x1="302.20" y1="285.97" x2="305.80" y2="285.97" stroke="#a60f2e" stroke-width="0.8"/>
<line x1="302.20" y1="287.61" x2="305.80" y2="287.61" stroke="#a60f2e" stroke-width="0.8"/>
<circle cx="257.80" cy="240.40" r="1.75" fill="#a60f2e" stroke="none" stroke-width="0"/>
<circle cx="280.90" cy="273.39" r="1.75" fill="#a60f2e" stroke="none" stroke-width="0"/>
<circle cx="304.00" cy="286.79" r="1.75" fill="#a60f2e" stroke="none" stroke-width="0"/>
<circle cx="327.10" cy="292.83" r="1.3" fill="#e9a5b5" stroke="none" stroke-width="0"/>
<circle cx="350.20" cy="294.15" r="1.3" fill="#e9a5b5" stroke="none" stroke-width="0"/>
<line x1="242.40" y1="209.00" x2="242.40" y2="295.25" stroke="#000" stroke-width="1.0"/>
<line x1="239.20" y1="294.75" x2="366.00" y2="294.75" stroke="#000" stroke-width="1.3"/>
<line x1="239.20" y1="294.75" x2="242.40" y2="294.75" stroke="#000" stroke-width="1.0"/>
<text x="231.41" y="298.15" font-size="8.5" stroke="#000" stroke-width="0.18" textLength="4.73" lengthAdjust="spacingAndGlyphs" fill="#000">0</text>
<line x1="239.20" y1="267.30" x2="242.40" y2="267.30" stroke="#000" stroke-width="1.0"/>
<text x="221.95" y="270.70" font-size="8.5" stroke="#000" stroke-width="0.18" textLength="14.18" lengthAdjust="spacingAndGlyphs" fill="#000">500</text>
<line x1="239.20" y1="239.85" x2="242.40" y2="239.85" stroke="#000" stroke-width="1.0"/>
<text x="214.86" y="243.25" font-size="8.5" stroke="#000" stroke-width="0.18" textLength="21.27" lengthAdjust="spacingAndGlyphs" fill="#000">1,000</text>
<line x1="239.20" y1="212.40" x2="242.40" y2="212.40" stroke="#000" stroke-width="1.0"/>
<text x="214.86" y="215.80" font-size="8.5" stroke="#000" stroke-width="0.18" textLength="21.27" lengthAdjust="spacingAndGlyphs" fill="#000">1,500</text>
<line x1="257.80" y1="294.75" x2="257.80" y2="297.75" stroke="#000" stroke-width="0.9"/>
<line x1="280.90" y1="294.75" x2="280.90" y2="297.75" stroke="#000" stroke-width="0.9"/>
<line x1="304.00" y1="294.75" x2="304.00" y2="297.75" stroke="#000" stroke-width="0.9"/>
<line x1="327.10" y1="294.75" x2="327.10" y2="297.75" stroke="#000" stroke-width="0.9"/>
<line x1="350.20" y1="294.75" x2="350.20" y2="297.75" stroke="#000" stroke-width="0.9"/>
<text transform="translate(260.10,306.65) rotate(-45)" x="0" y="0" font-size="8.2" text-anchor="end" stroke="#000" stroke-width="0.18">5 to 1</text>
<text transform="translate(283.20,306.65) rotate(-45)" x="0" y="0" font-size="8.2" text-anchor="end" stroke="#000" stroke-width="0.18">2.5 to 1</text>
<text transform="translate(306.30,306.65) rotate(-45)" x="0" y="0" font-size="8.2" text-anchor="end" stroke="#000" stroke-width="0.18">1.25 to 1</text>
<text transform="translate(329.40,306.65) rotate(-45)" x="0" y="0" font-size="8.2" text-anchor="end" stroke="#000" stroke-width="0.18">0.63 to 1</text>
<text transform="translate(352.50,306.65) rotate(-45)" x="0" y="0" font-size="8.2" text-anchor="end" stroke="#000" stroke-width="0.18">0.31 to 1</text>
<text x="267.98" y="342.60" font-size="10.6" stroke="#000" stroke-width="0.22" textLength="72.13" lengthAdjust="spacingAndGlyphs" fill="#000">Effector to target ratio</text>
<text x="264.35" y="203.10" font-size="10.3" stroke="#000" stroke-width="0.18" textLength="79.61" lengthAdjust="spacingAndGlyphs" fill="#000">CD8+ A2/NLV(+)</text>
<text transform="translate(207.20,277.90) rotate(-90)" x="-0.60" y="0" font-size="10.3" stroke="#000" stroke-width="0.3" textLength="49.86" lengthAdjust="spacingAndGlyphs" fill="#000">Live cell counts</text>
<polyline points="79.60,455.35 102.70,455.35 125.80,455.35 148.90,455.35 172.00,455.35" fill="none" stroke="#d2d2d4" stroke-width="0.9" stroke-linejoin="round"/>
<circle cx="79.60" cy="454.75" r="1.3" fill="#ececee" stroke="none" stroke-width="0"/>
<circle cx="102.70" cy="454.75" r="1.3" fill="#ececee" stroke="none" stroke-width="0"/>
<circle cx="125.80" cy="454.75" r="1.3" fill="#ececee" stroke="none" stroke-width="0"/>
<circle cx="148.90" cy="454.75" r="1.3" fill="#ececee" stroke="none" stroke-width="0"/>
<circle cx="172.00" cy="454.75" r="1.3" fill="#ececee" stroke="none" stroke-width="0"/>
<polyline points="79.60,455.35 102.70,455.35 125.80,453.30 148.90,455.35 172.00,455.35" fill="none" stroke="#a60f2e" stroke-width="1.0" stroke-linejoin="round"/>
<circle cx="79.60" cy="454.75" r="1.3" fill="#f2c6cf" stroke="none" stroke-width="0"/>
<circle cx="102.70" cy="454.75" r="1.3" fill="#f2c6cf" stroke="none" stroke-width="0"/>
<circle cx="125.80" cy="453.30" r="1.6" fill="none" stroke="#a60f2e" stroke-width="0.9"/>
<circle cx="148.90" cy="454.75" r="1.3" fill="#f2c6cf" stroke="none" stroke-width="0"/>
<circle cx="172.00" cy="454.75" r="1.3" fill="#f2c6cf" stroke="none" stroke-width="0"/>
<polyline points="79.60,416.06 102.70,408.00 125.80,410.47 148.90,413.76 172.00,423.13" fill="none" stroke="#c3c3c6" stroke-width="1.1" stroke-linejoin="round"/>
<line x1="79.60" y1="413.18" x2="79.60" y2="418.94" stroke="#c3c3c6" stroke-width="0.8"/>
<line x1="77.80" y1="413.18" x2="81.40" y2="413.18" stroke="#c3c3c6" stroke-width="0.8"/>
<line x1="77.80" y1="418.94" x2="81.40" y2="418.94" stroke="#c3c3c6" stroke-width="0.8"/>
<line x1="102.70" y1="403.40" x2="102.70" y2="412.61" stroke="#c3c3c6" stroke-width="0.8"/>
<line x1="100.90" y1="403.40" x2="104.50" y2="403.40" stroke="#c3c3c6" stroke-width="0.8"/>
<line x1="100.90" y1="412.61" x2="104.50" y2="412.61" stroke="#c3c3c6" stroke-width="0.8"/>
<line x1="125.80" y1="407.02" x2="125.80" y2="413.92" stroke="#c3c3c6" stroke-width="0.8"/>
<line x1="124.00" y1="407.02" x2="127.60" y2="407.02" stroke="#c3c3c6" stroke-width="0.8"/>
<line x1="124.00" y1="413.92" x2="127.60" y2="413.92" stroke="#c3c3c6" stroke-width="0.8"/>
<line x1="148.90" y1="406.85" x2="148.90" y2="420.66" stroke="#c3c3c6" stroke-width="0.8"/>
<line x1="147.10" y1="406.85" x2="150.70" y2="406.85" stroke="#c3c3c6" stroke-width="0.8"/>
<line x1="147.10" y1="420.66" x2="150.70" y2="420.66" stroke="#c3c3c6" stroke-width="0.8"/>
<line x1="172.00" y1="420.66" x2="172.00" y2="425.59" stroke="#c3c3c6" stroke-width="0.8"/>
<line x1="170.20" y1="420.66" x2="173.80" y2="420.66" stroke="#c3c3c6" stroke-width="0.8"/>
<line x1="170.20" y1="425.59" x2="173.80" y2="425.59" stroke="#c3c3c6" stroke-width="0.8"/>
<circle cx="79.60" cy="416.06" r="1.75" fill="#c3c3c6" stroke="none" stroke-width="0"/>
<circle cx="102.70" cy="408.00" r="1.75" fill="#c3c3c6" stroke="none" stroke-width="0"/>
<circle cx="125.80" cy="410.47" r="1.75" fill="#c3c3c6" stroke="none" stroke-width="0"/>
<circle cx="148.90" cy="413.76" r="1.75" fill="#c3c3c6" stroke="none" stroke-width="0"/>
<circle cx="172.00" cy="423.13" r="1.75" fill="#c3c3c6" stroke="none" stroke-width="0"/>
<polyline points="79.60,390.91 102.70,396.00 125.80,402.41 148.90,416.72 172.00,423.62" fill="none" stroke="#a60f2e" stroke-width="1.15" stroke-linejoin="round"/>
<line x1="102.70" y1="391.48" x2="102.70" y2="400.52" stroke="#a60f2e" stroke-width="0.8"/>
<line x1="100.90" y1="391.48" x2="104.50" y2="391.48" stroke="#a60f2e" stroke-width="0.8"/>
<line x1="100.90" y1="400.52" x2="104.50" y2="400.52" stroke="#a60f2e" stroke-width="0.8"/>
<line x1="125.80" y1="399.13" x2="125.80" y2="405.70" stroke="#a60f2e" stroke-width="0.8"/>
<line x1="124.00" y1="399.13" x2="127.60" y2="399.13" stroke="#a60f2e" stroke-width="0.8"/>
<line x1="124.00" y1="405.70" x2="127.60" y2="405.70" stroke="#a60f2e" stroke-width="0.8"/>
<line x1="148.90" y1="413.43" x2="148.90" y2="420.00" stroke="#a60f2e" stroke-width="0.8"/>
<line x1="147.10" y1="413.43" x2="150.70" y2="413.43" stroke="#a60f2e" stroke-width="0.8"/>
<line x1="147.10" y1="420.00" x2="150.70" y2="420.00" stroke="#a60f2e" stroke-width="0.8"/>
<line x1="172.00" y1="420.74" x2="172.00" y2="426.50" stroke="#a60f2e" stroke-width="0.8"/>
<line x1="170.20" y1="420.74" x2="173.80" y2="420.74" stroke="#a60f2e" stroke-width="0.8"/>
<line x1="170.20" y1="426.50" x2="173.80" y2="426.50" stroke="#a60f2e" stroke-width="0.8"/>
<circle cx="79.60" cy="390.91" r="1.75" fill="#a60f2e" stroke="none" stroke-width="0"/>
<circle cx="102.70" cy="396.00" r="1.75" fill="#a60f2e" stroke="none" stroke-width="0"/>
<circle cx="125.80" cy="402.41" r="1.75" fill="#a60f2e" stroke="none" stroke-width="0"/>
<circle cx="148.90" cy="416.72" r="1.75" fill="#a60f2e" stroke="none" stroke-width="0"/>
<circle cx="172.00" cy="423.62" r="1.75" fill="#a60f2e" stroke="none" stroke-width="0"/>
<line x1="64.30" y1="369.80" x2="64.30" y2="455.85" stroke="#000" stroke-width="1.0"/>
<line x1="61.20" y1="455.35" x2="188.00" y2="455.35" stroke="#000" stroke-width="1.3"/>
<line x1="61.20" y1="438.91" x2="64.30" y2="438.91" stroke="#000" stroke-width="1.0"/>
<line x1="61.20" y1="422.47" x2="64.30" y2="422.47" stroke="#000" stroke-width="1.0"/>
<line x1="61.20" y1="406.03" x2="64.30" y2="406.03" stroke="#000" stroke-width="1.0"/>
<line x1="61.20" y1="389.59" x2="64.30" y2="389.59" stroke="#000" stroke-width="1.0"/>
<line x1="61.20" y1="373.15" x2="64.30" y2="373.15" stroke="#000" stroke-width="1.0"/>
<text x="53.61" y="458.75" font-size="8.5" stroke="#000" stroke-width="0.18" textLength="4.73" lengthAdjust="spacingAndGlyphs" fill="#000">0</text>
<text x="48.88" y="442.31" font-size="8.5" stroke="#000" stroke-width="0.18" textLength="9.45" lengthAdjust="spacingAndGlyphs" fill="#000">20</text>
<text x="48.88" y="425.87" font-size="8.5" stroke="#000" stroke-width="0.18" textLength="9.45" lengthAdjust="spacingAndGlyphs" fill="#000">40</text>
<text x="48.88" y="409.43" font-size="8.5" stroke="#000" stroke-width="0.18" textLength="9.45" lengthAdjust="spacingAndGlyphs" fill="#000">60</text>
<text x="48.88" y="392.99" font-size="8.5" stroke="#000" stroke-width="0.18" textLength="9.45" lengthAdjust="spacingAndGlyphs" fill="#000">80</text>
<text x="44.15" y="376.55" font-size="8.5" stroke="#000" stroke-width="0.18" textLength="14.18" lengthAdjust="spacingAndGlyphs" fill="#000">100</text>
<line x1="79.60" y1="455.35" x2="79.60" y2="458.35" stroke="#000" stroke-width="0.9"/>
<line x1="102.70" y1="455.35" x2="102.70" y2="458.35" stroke="#000" stroke-width="0.9"/>
<line x1="125.80" y1="455.35" x2="125.80" y2="458.35" stroke="#000" stroke-width="0.9"/>
<line x1="148.90" y1="455.35" x2="148.90" y2="458.35" stroke="#000" stroke-width="0.9"/>
<line x1="172.00" y1="455.35" x2="172.00" y2="458.35" stroke="#000" stroke-width="0.9"/>
<text transform="translate(81.90,467.25) rotate(-45)" x="0" y="0" font-size="8.2" text-anchor="end" stroke="#000" stroke-width="0.18">5 to 1</text>
<text transform="translate(105.00,467.25) rotate(-45)" x="0" y="0" font-size="8.2" text-anchor="end" stroke="#000" stroke-width="0.18">2.5 to 1</text>
<text transform="translate(128.10,467.25) rotate(-45)" x="0" y="0" font-size="8.2" text-anchor="end" stroke="#000" stroke-width="0.18">1.25 to 1</text>
<text transform="translate(151.20,467.25) rotate(-45)" x="0" y="0" font-size="8.2" text-anchor="end" stroke="#000" stroke-width="0.18">0.63 to 1</text>
<text transform="translate(174.30,467.25) rotate(-45)" x="0" y="0" font-size="8.2" text-anchor="end" stroke="#000" stroke-width="0.18">0.31 to 1</text>
<text x="90.39" y="503.60" font-size="10.6" stroke="#000" stroke-width="0.22" textLength="71.83" lengthAdjust="spacingAndGlyphs" fill="#000">Effector to target ratio</text>
<text x="97.24" y="363.30" font-size="10.0" stroke="#000" stroke-width="0.18" textLength="57.92" lengthAdjust="spacingAndGlyphs" fill="#000">Specific lysis</text>
<text transform="translate(35.50,423.80) rotate(-90)" x="-0.26" y="0" font-size="9.6" stroke="#000" stroke-width="0.3" textLength="22.63" lengthAdjust="spacingAndGlyphs" fill="#000">% lysis</text>
<polyline points="257.80,455.35 280.90,455.35 304.00,455.35 327.10,455.35 350.20,455.35" fill="none" stroke="#d2d2d4" stroke-width="0.9" stroke-linejoin="round"/>
<circle cx="257.80" cy="454.75" r="1.3" fill="#ececee" stroke="none" stroke-width="0"/>
<circle cx="280.90" cy="454.75" r="1.3" fill="#ececee" stroke="none" stroke-width="0"/>
<circle cx="304.00" cy="454.75" r="1.3" fill="#ececee" stroke="none" stroke-width="0"/>
<circle cx="327.10" cy="454.75" r="1.3" fill="#ececee" stroke="none" stroke-width="0"/>
<circle cx="350.20" cy="454.75" r="1.3" fill="#ececee" stroke="none" stroke-width="0"/>
<polyline points="257.80,454.80 280.90,454.80 304.00,454.80 327.10,454.53 350.20,455.08" fill="none" stroke="#a60f2e" stroke-width="1.0" stroke-linejoin="round"/>
<circle cx="257.80" cy="454.75" r="1.3" fill="#f2c6cf" stroke="none" stroke-width="0"/>
<circle cx="280.90" cy="454.75" r="1.3" fill="#f2c6cf" stroke="none" stroke-width="0"/>
<circle cx="304.00" cy="454.75" r="1.3" fill="#f2c6cf" stroke="none" stroke-width="0"/>
<circle cx="327.10" cy="454.53" r="1.6" fill="none" stroke="#a60f2e" stroke-width="0.9"/>
<circle cx="350.20" cy="454.75" r="1.3" fill="#f2c6cf" stroke="none" stroke-width="0"/>
<polyline points="257.80,439.24 280.90,430.65 304.00,434.54 327.10,441.73 350.20,448.65" fill="none" stroke="#c3c3c6" stroke-width="1.1" stroke-linejoin="round"/>
<line x1="257.80" y1="437.18" x2="257.80" y2="441.30" stroke="#c3c3c6" stroke-width="0.8"/>
<line x1="256.00" y1="437.18" x2="259.60" y2="437.18" stroke="#c3c3c6" stroke-width="0.8"/>
<line x1="256.00" y1="441.30" x2="259.60" y2="441.30" stroke="#c3c3c6" stroke-width="0.8"/>
<line x1="280.90" y1="427.35" x2="280.90" y2="433.94" stroke="#c3c3c6" stroke-width="0.8"/>
<line x1="279.10" y1="427.35" x2="282.70" y2="427.35" stroke="#c3c3c6" stroke-width="0.8"/>
<line x1="279.10" y1="433.94" x2="282.70" y2="433.94" stroke="#c3c3c6" stroke-width="0.8"/>
<line x1="304.00" y1="431.80" x2="304.00" y2="437.29" stroke="#c3c3c6" stroke-width="0.8"/>
<line x1="302.20" y1="431.80" x2="305.80" y2="431.80" stroke="#c3c3c6" stroke-width="0.8"/>
<line x1="302.20" y1="437.29" x2="305.80" y2="437.29" stroke="#c3c3c6" stroke-width="0.8"/>
<line x1="327.10" y1="440.64" x2="327.10" y2="442.83" stroke="#c3c3c6" stroke-width="0.8"/>
<line x1="325.30" y1="440.64" x2="328.90" y2="440.64" stroke="#c3c3c6" stroke-width="0.8"/>
<line x1="325.30" y1="442.83" x2="328.90" y2="442.83" stroke="#c3c3c6" stroke-width="0.8"/>
<circle cx="257.80" cy="439.24" r="1.75" fill="#c3c3c6" stroke="none" stroke-width="0"/>
<circle cx="280.90" cy="430.65" r="1.75" fill="#c3c3c6" stroke="none" stroke-width="0"/>
<circle cx="304.00" cy="434.54" r="1.75" fill="#c3c3c6" stroke="none" stroke-width="0"/>
<circle cx="327.10" cy="441.73" r="1.75" fill="#c3c3c6" stroke="none" stroke-width="0"/>
<circle cx="350.20" cy="448.65" r="1.75" fill="#c3c3c6" stroke="none" stroke-width="0"/>
<polyline points="257.80,394.11 280.90,412.64 304.00,431.14 327.10,444.04 350.20,450.24" fill="none" stroke="#a60f2e" stroke-width="1.15" stroke-linejoin="round"/>
<line x1="257.80" y1="389.31" x2="257.80" y2="398.91" stroke="#a60f2e" stroke-width="0.8"/>
<line x1="256.00" y1="389.31" x2="259.60" y2="389.31" stroke="#a60f2e" stroke-width="0.8"/>
<line x1="256.00" y1="398.91" x2="259.60" y2="398.91" stroke="#a60f2e" stroke-width="0.8"/>
<line x1="280.90" y1="411.54" x2="280.90" y2="413.74" stroke="#a60f2e" stroke-width="0.8"/>
<line x1="279.10" y1="411.54" x2="282.70" y2="411.54" stroke="#a60f2e" stroke-width="0.8"/>
<line x1="279.10" y1="413.74" x2="282.70" y2="413.74" stroke="#a60f2e" stroke-width="0.8"/>
<line x1="304.00" y1="429.49" x2="304.00" y2="432.79" stroke="#a60f2e" stroke-width="0.8"/>
<line x1="302.20" y1="429.49" x2="305.80" y2="429.49" stroke="#a60f2e" stroke-width="0.8"/>
<line x1="302.20" y1="432.79" x2="305.80" y2="432.79" stroke="#a60f2e" stroke-width="0.8"/>
<line x1="327.10" y1="443.49" x2="327.10" y2="444.59" stroke="#a60f2e" stroke-width="0.8"/>
<line x1="325.30" y1="443.49" x2="328.90" y2="443.49" stroke="#a60f2e" stroke-width="0.8"/>
<line x1="325.30" y1="444.59" x2="328.90" y2="444.59" stroke="#a60f2e" stroke-width="0.8"/>
<circle cx="257.80" cy="394.11" r="1.75" fill="#a60f2e" stroke="none" stroke-width="0"/>
<circle cx="280.90" cy="412.64" r="1.75" fill="#a60f2e" stroke="none" stroke-width="0"/>
<circle cx="304.00" cy="431.14" r="1.75" fill="#a60f2e" stroke="none" stroke-width="0"/>
<circle cx="327.10" cy="444.04" r="1.75" fill="#a60f2e" stroke="none" stroke-width="0"/>
<circle cx="350.20" cy="450.24" r="1.75" fill="#a60f2e" stroke="none" stroke-width="0"/>
<line x1="242.40" y1="369.60" x2="242.40" y2="455.85" stroke="#000" stroke-width="1.0"/>
<line x1="239.20" y1="455.35" x2="366.00" y2="455.35" stroke="#000" stroke-width="1.3"/>
<line x1="239.20" y1="455.35" x2="242.40" y2="455.35" stroke="#000" stroke-width="1.0"/>
<text x="231.41" y="458.75" font-size="8.5" stroke="#000" stroke-width="0.18" textLength="4.73" lengthAdjust="spacingAndGlyphs" fill="#000">0</text>
<line x1="239.20" y1="427.90" x2="242.40" y2="427.90" stroke="#000" stroke-width="1.0"/>
<text x="214.86" y="431.30" font-size="8.5" stroke="#000" stroke-width="0.18" textLength="21.27" lengthAdjust="spacingAndGlyphs" fill="#000">1,000</text>
<line x1="239.20" y1="400.45" x2="242.40" y2="400.45" stroke="#000" stroke-width="1.0"/>
<text x="214.86" y="403.85" font-size="8.5" stroke="#000" stroke-width="0.18" textLength="21.27" lengthAdjust="spacingAndGlyphs" fill="#000">2,000</text>
<line x1="239.20" y1="373.00" x2="242.40" y2="373.00" stroke="#000" stroke-width="1.0"/>
<text x="214.86" y="376.40" font-size="8.5" stroke="#000" stroke-width="0.18" textLength="21.27" lengthAdjust="spacingAndGlyphs" fill="#000">3,000</text>
<line x1="257.80" y1="455.35" x2="257.80" y2="458.35" stroke="#000" stroke-width="0.9"/>
<line x1="280.90" y1="455.35" x2="280.90" y2="458.35" stroke="#000" stroke-width="0.9"/>
<line x1="304.00" y1="455.35" x2="304.00" y2="458.35" stroke="#000" stroke-width="0.9"/>
<line x1="327.10" y1="455.35" x2="327.10" y2="458.35" stroke="#000" stroke-width="0.9"/>
<line x1="350.20" y1="455.35" x2="350.20" y2="458.35" stroke="#000" stroke-width="0.9"/>
<text transform="translate(260.10,467.25) rotate(-45)" x="0" y="0" font-size="8.2" text-anchor="end" stroke="#000" stroke-width="0.18">5 to 1</text>
<text transform="translate(283.20,467.25) rotate(-45)" x="0" y="0" font-size="8.2" text-anchor="end" stroke="#000" stroke-width="0.18">2.5 to 1</text>
<text transform="translate(306.30,467.25) rotate(-45)" x="0" y="0" font-size="8.2" text-anchor="end" stroke="#000" stroke-width="0.18">1.25 to 1</text>
<text transform="translate(329.40,467.25) rotate(-45)" x="0" y="0" font-size="8.2" text-anchor="end" stroke="#000" stroke-width="0.18">0.63 to 1</text>
<text transform="translate(352.50,467.25) rotate(-45)" x="0" y="0" font-size="8.2" text-anchor="end" stroke="#000" stroke-width="0.18">0.31 to 1</text>
<text x="267.98" y="503.60" font-size="10.6" stroke="#000" stroke-width="0.22" textLength="72.13" lengthAdjust="spacingAndGlyphs" fill="#000">Effector to target ratio</text>
<text x="264.35" y="363.30" font-size="10.3" stroke="#000" stroke-width="0.18" textLength="79.61" lengthAdjust="spacingAndGlyphs" fill="#000">CD8+ A2/NLV(+)</text>
<text transform="translate(207.20,436.80) rotate(-90)" x="-0.59" y="0" font-size="9.4" stroke="#000" stroke-width="0.3" textLength="48.94" lengthAdjust="spacingAndGlyphs" fill="#000">Live cell counts</text>
<polyline points="79.60,607.73 102.70,610.44 125.80,609.37 148.90,615.13 172.00,612.66" fill="none" stroke="#d2d2d4" stroke-width="0.9" stroke-linejoin="round"/>
<line x1="79.60" y1="602.80" x2="79.60" y2="612.66" stroke="#d2d2d4" stroke-width="0.8"/>
<line x1="77.80" y1="602.80" x2="81.40" y2="602.80" stroke="#d2d2d4" stroke-width="0.8"/>
<line x1="77.80" y1="612.66" x2="81.40" y2="612.66" stroke="#d2d2d4" stroke-width="0.8"/>
<line x1="125.80" y1="606.91" x2="125.80" y2="611.84" stroke="#d2d2d4" stroke-width="0.8"/>
<line x1="124.00" y1="606.91" x2="127.60" y2="606.91" stroke="#d2d2d4" stroke-width="0.8"/>
<line x1="124.00" y1="611.84" x2="127.60" y2="611.84" stroke="#d2d2d4" stroke-width="0.8"/>
<circle cx="79.60" cy="607.73" r="1.6" fill="none" stroke="#d2d2d4" stroke-width="0.9"/>
<circle cx="102.70" cy="610.44" r="1.6" fill="none" stroke="#d2d2d4" stroke-width="0.9"/>
<circle cx="125.80" cy="609.37" r="1.6" fill="none" stroke="#d2d2d4" stroke-width="0.9"/>
<circle cx="148.90" cy="615.13" r="1.6" fill="none" stroke="#d2d2d4" stroke-width="0.9"/>
<circle cx="172.00" cy="612.66" r="1.6" fill="none" stroke="#d2d2d4" stroke-width="0.9"/>
<polyline points="79.60,593.26 102.70,600.74 125.80,609.37 148.90,612.00 172.00,610.61" fill="none" stroke="#a60f2e" stroke-width="1.0" stroke-linejoin="round"/>
<line x1="79.60" y1="592.03" x2="79.60" y2="594.50" stroke="#a60f2e" stroke-width="0.8"/>
<line x1="77.80" y1="592.03" x2="81.40" y2="592.03" stroke="#a60f2e" stroke-width="0.8"/>
<line x1="77.80" y1="594.50" x2="81.40" y2="594.50" stroke="#a60f2e" stroke-width="0.8"/>
<line x1="102.70" y1="598.28" x2="102.70" y2="603.21" stroke="#a60f2e" stroke-width="0.8"/>
<line x1="100.90" y1="598.28" x2="104.50" y2="598.28" stroke="#a60f2e" stroke-width="0.8"/>
<line x1="100.90" y1="603.21" x2="104.50" y2="603.21" stroke="#a60f2e" stroke-width="0.8"/>
<line x1="125.80" y1="606.09" x2="125.80" y2="612.66" stroke="#a60f2e" stroke-width="0.8"/>
<line x1="124.00" y1="606.09" x2="127.60" y2="606.09" stroke="#a60f2e" stroke-width="0.8"/>
<line x1="124.00" y1="612.66" x2="127.60" y2="612.66" stroke="#a60f2e" stroke-width="0.8"/>
<line x1="148.90" y1="608.72" x2="148.90" y2="615.29" stroke="#a60f2e" stroke-width="0.8"/>
<line x1="147.10" y1="608.72" x2="150.70" y2="608.72" stroke="#a60f2e" stroke-width="0.8"/>
<line x1="147.10" y1="615.29" x2="150.70" y2="615.29" stroke="#a60f2e" stroke-width="0.8"/>
<line x1="172.00" y1="607.32" x2="172.00" y2="613.90" stroke="#a60f2e" stroke-width="0.8"/>
<line x1="170.20" y1="607.32" x2="173.80" y2="607.32" stroke="#a60f2e" stroke-width="0.8"/>
<line x1="170.20" y1="613.90" x2="173.80" y2="613.90" stroke="#a60f2e" stroke-width="0.8"/>
<circle cx="79.60" cy="593.26" r="1.6" fill="none" stroke="#a60f2e" stroke-width="0.9"/>
<circle cx="102.70" cy="600.74" r="1.6" fill="none" stroke="#a60f2e" stroke-width="0.9"/>
<circle cx="125.80" cy="609.37" r="1.6" fill="none" stroke="#a60f2e" stroke-width="0.9"/>
<circle cx="148.90" cy="612.00" r="1.6" fill="none" stroke="#a60f2e" stroke-width="0.9"/>
<circle cx="172.00" cy="610.61" r="1.6" fill="none" stroke="#a60f2e" stroke-width="0.9"/>
<polyline points="79.60,566.05 102.70,573.62 125.80,581.10 148.90,590.96 172.00,599.51" fill="none" stroke="#c3c3c6" stroke-width="1.1" stroke-linejoin="round"/>
<line x1="79.60" y1="564.82" x2="79.60" y2="567.29" stroke="#c3c3c6" stroke-width="0.8"/>
<line x1="77.80" y1="564.82" x2="81.40" y2="564.82" stroke="#c3c3c6" stroke-width="0.8"/>
<line x1="77.80" y1="567.29" x2="81.40" y2="567.29" stroke="#c3c3c6" stroke-width="0.8"/>
<line x1="102.70" y1="570.08" x2="102.70" y2="577.15" stroke="#c3c3c6" stroke-width="0.8"/>
<line x1="100.90" y1="570.08" x2="104.50" y2="570.08" stroke="#c3c3c6" stroke-width="0.8"/>
<line x1="100.90" y1="577.15" x2="104.50" y2="577.15" stroke="#c3c3c6" stroke-width="0.8"/>
<line x1="125.80" y1="578.22" x2="125.80" y2="583.97" stroke="#c3c3c6" stroke-width="0.8"/>
<line x1="124.00" y1="578.22" x2="127.60" y2="578.22" stroke="#c3c3c6" stroke-width="0.8"/>
<line x1="124.00" y1="583.97" x2="127.60" y2="583.97" stroke="#c3c3c6" stroke-width="0.8"/>
<line x1="148.90" y1="589.32" x2="148.90" y2="592.61" stroke="#c3c3c6" stroke-width="0.8"/>
<line x1="147.10" y1="589.32" x2="150.70" y2="589.32" stroke="#c3c3c6" stroke-width="0.8"/>
<line x1="147.10" y1="592.61" x2="150.70" y2="592.61" stroke="#c3c3c6" stroke-width="0.8"/>
<line x1="172.00" y1="598.28" x2="172.00" y2="600.74" stroke="#c3c3c6" stroke-width="0.8"/>
<line x1="170.20" y1="598.28" x2="173.80" y2="598.28" stroke="#c3c3c6" stroke-width="0.8"/>
<line x1="170.20" y1="600.74" x2="173.80" y2="600.74" stroke="#c3c3c6" stroke-width="0.8"/>
<circle cx="79.60" cy="566.05" r="1.75" fill="#c3c3c6" stroke="none" stroke-width="0"/>
<circle cx="102.70" cy="573.62" r="1.75" fill="#c3c3c6" stroke="none" stroke-width="0"/>
<circle cx="125.80" cy="581.10" r="1.75" fill="#c3c3c6" stroke="none" stroke-width="0"/>
<circle cx="148.90" cy="590.96" r="1.75" fill="#a60f2e" stroke="none" stroke-width="0"/>
<circle cx="172.00" cy="599.51" r="1.75" fill="#c3c3c6" stroke="none" stroke-width="0"/>
<polyline points="79.60,544.44 102.70,548.22 125.80,563.01 148.90,575.92 172.00,590.96" fill="none" stroke="#a60f2e" stroke-width="1.15" stroke-linejoin="round"/>
<line x1="79.60" y1="542.79" x2="79.60" y2="546.08" stroke="#a60f2e" stroke-width="0.8"/>
<line x1="77.80" y1="542.79" x2="81.40" y2="542.79" stroke="#a60f2e" stroke-width="0.8"/>
<line x1="77.80" y1="546.08" x2="81.40" y2="546.08" stroke="#a60f2e" stroke-width="0.8"/>
<line x1="148.90" y1="574.27" x2="148.90" y2="577.56" stroke="#a60f2e" stroke-width="0.8"/>
<line x1="147.10" y1="574.27" x2="150.70" y2="574.27" stroke="#a60f2e" stroke-width="0.8"/>
<line x1="147.10" y1="577.56" x2="150.70" y2="577.56" stroke="#a60f2e" stroke-width="0.8"/>
<line x1="172.00" y1="588.00" x2="172.00" y2="593.92" stroke="#a60f2e" stroke-width="0.8"/>
<line x1="170.20" y1="588.00" x2="173.80" y2="588.00" stroke="#a60f2e" stroke-width="0.8"/>
<line x1="170.20" y1="593.92" x2="173.80" y2="593.92" stroke="#a60f2e" stroke-width="0.8"/>
<circle cx="79.60" cy="544.44" r="1.75" fill="#a60f2e" stroke="none" stroke-width="0"/>
<circle cx="102.70" cy="548.22" r="1.75" fill="#a60f2e" stroke="none" stroke-width="0"/>
<circle cx="125.80" cy="563.01" r="1.75" fill="#a60f2e" stroke="none" stroke-width="0"/>
<circle cx="148.90" cy="575.92" r="1.75" fill="#c3c3c6" stroke="none" stroke-width="0"/>
<circle cx="172.00" cy="590.96" r="1.75" fill="#a60f2e" stroke="none" stroke-width="0"/>
<line x1="64.30" y1="530.40" x2="64.30" y2="616.45" stroke="#000" stroke-width="1.0"/>
<line x1="61.20" y1="615.95" x2="188.00" y2="615.95" stroke="#000" stroke-width="1.3"/>
<line x1="61.20" y1="599.51" x2="64.30" y2="599.51" stroke="#000" stroke-width="1.0"/>
<line x1="61.20" y1="583.07" x2="64.30" y2="583.07" stroke="#000" stroke-width="1.0"/>
<line x1="61.20" y1="566.63" x2="64.30" y2="566.63" stroke="#000" stroke-width="1.0"/>
<line x1="61.20" y1="550.19" x2="64.30" y2="550.19" stroke="#000" stroke-width="1.0"/>
<line x1="61.20" y1="533.75" x2="64.30" y2="533.75" stroke="#000" stroke-width="1.0"/>
<text x="53.61" y="619.35" font-size="8.5" stroke="#000" stroke-width="0.18" textLength="4.73" lengthAdjust="spacingAndGlyphs" fill="#000">0</text>
<text x="48.88" y="602.91" font-size="8.5" stroke="#000" stroke-width="0.18" textLength="9.45" lengthAdjust="spacingAndGlyphs" fill="#000">20</text>
<text x="48.88" y="586.47" font-size="8.5" stroke="#000" stroke-width="0.18" textLength="9.45" lengthAdjust="spacingAndGlyphs" fill="#000">40</text>
<text x="48.88" y="570.03" font-size="8.5" stroke="#000" stroke-width="0.18" textLength="9.45" lengthAdjust="spacingAndGlyphs" fill="#000">60</text>
<text x="48.88" y="553.59" font-size="8.5" stroke="#000" stroke-width="0.18" textLength="9.45" lengthAdjust="spacingAndGlyphs" fill="#000">80</text>
<text x="44.15" y="537.15" font-size="8.5" stroke="#000" stroke-width="0.18" textLength="14.18" lengthAdjust="spacingAndGlyphs" fill="#000">100</text>
<line x1="79.60" y1="615.95" x2="79.60" y2="618.95" stroke="#000" stroke-width="0.9"/>
<line x1="102.70" y1="615.95" x2="102.70" y2="618.95" stroke="#000" stroke-width="0.9"/>
<line x1="125.80" y1="615.95" x2="125.80" y2="618.95" stroke="#000" stroke-width="0.9"/>
<line x1="148.90" y1="615.95" x2="148.90" y2="618.95" stroke="#000" stroke-width="0.9"/>
<line x1="172.00" y1="615.95" x2="172.00" y2="618.95" stroke="#000" stroke-width="0.9"/>
<text transform="translate(81.90,627.85) rotate(-45)" x="0" y="0" font-size="8.2" text-anchor="end" stroke="#000" stroke-width="0.18">5 to 1</text>
<text transform="translate(105.00,627.85) rotate(-45)" x="0" y="0" font-size="8.2" text-anchor="end" stroke="#000" stroke-width="0.18">2.5 to 1</text>
<text transform="translate(128.10,627.85) rotate(-45)" x="0" y="0" font-size="8.2" text-anchor="end" stroke="#000" stroke-width="0.18">1.25 to 1</text>
<text transform="translate(151.20,627.85) rotate(-45)" x="0" y="0" font-size="8.2" text-anchor="end" stroke="#000" stroke-width="0.18">0.63 to 1</text>
<text transform="translate(174.30,627.85) rotate(-45)" x="0" y="0" font-size="8.2" text-anchor="end" stroke="#000" stroke-width="0.18">0.31 to 1</text>
<text x="90.39" y="663.90" font-size="10.6" stroke="#000" stroke-width="0.22" textLength="71.83" lengthAdjust="spacingAndGlyphs" fill="#000">Effector to target ratio</text>
<text x="97.24" y="524.20" font-size="10.0" stroke="#000" stroke-width="0.18" textLength="57.92" lengthAdjust="spacingAndGlyphs" fill="#000">Specific lysis</text>
<text transform="translate(35.50,584.30) rotate(-90)" x="-0.26" y="0" font-size="9.6" stroke="#000" stroke-width="0.3" textLength="22.63" lengthAdjust="spacingAndGlyphs" fill="#000">% lysis</text>
<polyline points="257.80,615.95 280.90,615.95 304.00,615.95 327.10,615.95 350.20,615.95" fill="none" stroke="#d2d2d4" stroke-width="0.9" stroke-linejoin="round"/>
<circle cx="257.80" cy="615.35" r="1.3" fill="#ececee" stroke="none" stroke-width="0"/>
<circle cx="280.90" cy="615.35" r="1.3" fill="#ececee" stroke="none" stroke-width="0"/>
<circle cx="304.00" cy="615.35" r="1.3" fill="#ececee" stroke="none" stroke-width="0"/>
<circle cx="327.10" cy="615.35" r="1.3" fill="#ececee" stroke="none" stroke-width="0"/>
<circle cx="350.20" cy="615.35" r="1.3" fill="#ececee" stroke="none" stroke-width="0"/>
<polyline points="257.80,613.89 280.90,615.44 304.00,615.64 327.10,615.74 350.20,615.85" fill="none" stroke="#a60f2e" stroke-width="1.0" stroke-linejoin="round"/>
<circle cx="257.80" cy="613.89" r="1.6" fill="none" stroke="#a60f2e" stroke-width="0.9"/>
<circle cx="280.90" cy="615.35" r="1.3" fill="#f2c6cf" stroke="none" stroke-width="0"/>
<circle cx="304.00" cy="615.35" r="1.3" fill="#f2c6cf" stroke="none" stroke-width="0"/>
<circle cx="327.10" cy="615.35" r="1.3" fill="#f2c6cf" stroke="none" stroke-width="0"/>
<circle cx="350.20" cy="615.35" r="1.3" fill="#f2c6cf" stroke="none" stroke-width="0"/>
<polyline points="257.80,603.00 280.90,608.82 304.00,612.74 327.10,614.15 350.20,614.92" fill="none" stroke="#c3c3c6" stroke-width="1.1" stroke-linejoin="round"/>
<circle cx="257.80" cy="603.00" r="1.75" fill="#c3c3c6" stroke="none" stroke-width="0"/>
<circle cx="280.90" cy="608.82" r="1.75" fill="#c3c3c6" stroke="none" stroke-width="0"/>
<circle cx="304.00" cy="612.74" r="1.75" fill="#c3c3c6" stroke="none" stroke-width="0"/>
<circle cx="327.10" cy="614.15" r="1.75" fill="#c3c3c6" stroke="none" stroke-width="0"/>
<circle cx="350.20" cy="614.92" r="1.75" fill="#c3c3c6" stroke="none" stroke-width="0"/>
<polyline points="257.80,544.54 280.90,572.16 304.00,596.06 327.10,608.82 350.20,613.44" fill="none" stroke="#a60f2e" stroke-width="1.15" stroke-linejoin="round"/>
<line x1="257.80" y1="541.45" x2="257.80" y2="547.63" stroke="#a60f2e" stroke-width="0.8"/>
<line x1="256.00" y1="541.45" x2="259.60" y2="541.45" stroke="#a60f2e" stroke-width="0.8"/>
<line x1="256.00" y1="547.63" x2="259.60" y2="547.63" stroke="#a60f2e" stroke-width="0.8"/>
<line x1="280.90" y1="569.28" x2="280.90" y2="575.04" stroke="#a60f2e" stroke-width="0.8"/>
<line x1="279.10" y1="569.28" x2="282.70" y2="569.28" stroke="#a60f2e" stroke-width="0.8"/>
<line x1="279.10" y1="575.04" x2="282.70" y2="575.04" stroke="#a60f2e" stroke-width="0.8"/>
<line x1="304.00" y1="595.44" x2="304.00" y2="596.68" stroke="#a60f2e" stroke-width="0.8"/>
<line x1="302.20" y1="595.44" x2="305.80" y2="595.44" stroke="#a60f2e" stroke-width="0.8"/>
<line x1="302.20" y1="596.68" x2="305.80" y2="596.68" stroke="#a60f2e" stroke-width="0.8"/>
<circle cx="257.80" cy="544.54" r="1.75" fill="#a60f2e" stroke="none" stroke-width="0"/>
<circle cx="280.90" cy="572.16" r="1.75" fill="#a60f2e" stroke="none" stroke-width="0"/>
<circle cx="304.00" cy="596.06" r="1.75" fill="#a60f2e" stroke="none" stroke-width="0"/>
<circle cx="327.10" cy="608.82" r="1.75" fill="#a60f2e" stroke="none" stroke-width="0"/>
<circle cx="350.20" cy="613.44" r="1.75" fill="#a60f2e" stroke="none" stroke-width="0"/>
<line x1="242.40" y1="530.20" x2="242.40" y2="616.45" stroke="#000" stroke-width="1.0"/>
<line x1="239.20" y1="615.95" x2="366.00" y2="615.95" stroke="#000" stroke-width="1.3"/>
<line x1="239.20" y1="615.95" x2="242.40" y2="615.95" stroke="#000" stroke-width="1.0"/>
<text x="231.41" y="619.35" font-size="8.5" stroke="#000" stroke-width="0.18" textLength="4.73" lengthAdjust="spacingAndGlyphs" fill="#000">0</text>
<line x1="239.20" y1="595.36" x2="242.40" y2="595.36" stroke="#000" stroke-width="1.0"/>
<text x="214.86" y="598.76" font-size="8.5" stroke="#000" stroke-width="0.18" textLength="21.27" lengthAdjust="spacingAndGlyphs" fill="#000">2,000</text>
<line x1="239.20" y1="574.78" x2="242.40" y2="574.78" stroke="#000" stroke-width="1.0"/>
<text x="214.86" y="578.18" font-size="8.5" stroke="#000" stroke-width="0.18" textLength="21.27" lengthAdjust="spacingAndGlyphs" fill="#000">4,000</text>
<line x1="239.20" y1="554.19" x2="242.40" y2="554.19" stroke="#000" stroke-width="1.0"/>
<text x="214.86" y="557.59" font-size="8.5" stroke="#000" stroke-width="0.18" textLength="21.27" lengthAdjust="spacingAndGlyphs" fill="#000">6,000</text>
<line x1="239.20" y1="533.60" x2="242.40" y2="533.60" stroke="#000" stroke-width="1.0"/>
<text x="214.86" y="537.00" font-size="8.5" stroke="#000" stroke-width="0.18" textLength="21.27" lengthAdjust="spacingAndGlyphs" fill="#000">8,000</text>
<line x1="257.80" y1="615.95" x2="257.80" y2="618.95" stroke="#000" stroke-width="0.9"/>
<line x1="280.90" y1="615.95" x2="280.90" y2="618.95" stroke="#000" stroke-width="0.9"/>
<line x1="304.00" y1="615.95" x2="304.00" y2="618.95" stroke="#000" stroke-width="0.9"/>
<line x1="327.10" y1="615.95" x2="327.10" y2="618.95" stroke="#000" stroke-width="0.9"/>
<line x1="350.20" y1="615.95" x2="350.20" y2="618.95" stroke="#000" stroke-width="0.9"/>
<text transform="translate(260.10,627.85) rotate(-45)" x="0" y="0" font-size="8.2" text-anchor="end" stroke="#000" stroke-width="0.18">5 to 1</text>
<text transform="translate(283.20,627.85) rotate(-45)" x="0" y="0" font-size="8.2" text-anchor="end" stroke="#000" stroke-width="0.18">2.5 to 1</text>
<text transform="translate(306.30,627.85) rotate(-45)" x="0" y="0" font-size="8.2" text-anchor="end" stroke="#000" stroke-width="0.18">1.25 to 1</text>
<text transform="translate(329.40,627.85) rotate(-45)" x="0" y="0" font-size="8.2" text-anchor="end" stroke="#000" stroke-width="0.18">0.63 to 1</text>
<text transform="translate(352.50,627.85) rotate(-45)" x="0" y="0" font-size="8.2" text-anchor="end" stroke="#000" stroke-width="0.18">0.31 to 1</text>
<text x="267.98" y="663.90" font-size="10.6" stroke="#000" stroke-width="0.22" textLength="72.13" lengthAdjust="spacingAndGlyphs" fill="#000">Effector to target ratio</text>
<text x="264.35" y="524.20" font-size="10.3" stroke="#000" stroke-width="0.18" textLength="79.61" lengthAdjust="spacingAndGlyphs" fill="#000">CD8+ A2/NLV(+)</text>
<text transform="translate(207.20,596.60) rotate(-90)" x="-0.58" y="0" font-size="10.0" stroke="#000" stroke-width="0.3" textLength="48.54" lengthAdjust="spacingAndGlyphs" fill="#000">Live cell counts</text>
<text x="7.54" y="256.50" font-size="9.0" stroke="#000" stroke-width="0.18" textLength="17.61" lengthAdjust="spacingAndGlyphs" fill="#000">53M</text>
<text x="7.80" y="414.40" font-size="9.0" stroke="#000" stroke-width="0.18" textLength="17.13" lengthAdjust="spacingAndGlyphs" fill="#000">47M</text>
<text x="7.45" y="572.60" font-size="9.0" stroke="#000" stroke-width="0.18" textLength="17.49" lengthAdjust="spacingAndGlyphs" fill="#000">28M</text>
<line x1="377.00" y1="224.50" x2="387.90" y2="224.50" stroke="#a60f2e" stroke-width="1.2"/>
<circle cx="382.40" cy="224.50" r="2.1" fill="#a60f2e" stroke="none" stroke-width="0"/>
<text x="390.86" y="227.10" font-size="8.4" stroke="#000" stroke-width="0.08" textLength="82.68" lengthAdjust="spacingAndGlyphs" fill="#000">NLV + Mono-OKT3-Fab</text>
<line x1="377.00" y1="237.50" x2="387.90" y2="237.50" stroke="#c3c3c6" stroke-width="1.2"/>
<circle cx="382.40" cy="237.50" r="2.1" fill="#c3c3c6" stroke="none" stroke-width="0"/>
<text x="390.85" y="240.10" font-size="8.4" stroke="#000" stroke-width="0.08" textLength="65.78" lengthAdjust="spacingAndGlyphs" fill="#000">NLV + Ms-IgG-Fab</text>
<line x1="377.00" y1="250.30" x2="387.90" y2="250.30" stroke="#a60f2e" stroke-width="1.2"/>
<circle cx="382.40" cy="250.30" r="1.8" fill="none" stroke="#a60f2e" stroke-width="1.0"/>
<text x="390.85" y="252.90" font-size="8.4" stroke="#000" stroke-width="0.08" textLength="106.98" lengthAdjust="spacingAndGlyphs" fill="#000">No peptide + Mono-OKT3-Fab</text>
<line x1="377.00" y1="263.10" x2="387.90" y2="263.10" stroke="#d2d2d4" stroke-width="1.2"/>
<circle cx="382.40" cy="263.10" r="1.8" fill="none" stroke="#d2d2d4" stroke-width="1.0"/>
<text x="390.85" y="265.70" font-size="8.4" stroke="#000" stroke-width="0.08" textLength="90.09" lengthAdjust="spacingAndGlyphs" fill="#000">No peptide + Ms-IgG-Fab</text>
</g>
</svg>
<svg width="520" height="674" viewBox="0 0 520 674"><rect x="0" y="0" width="520" height="1.2" fill="#000"/><rect x="0" y="672.7" width="520" height="1.3" fill="#000"/><rect x="0" y="0" width="1.2" height="674" fill="#000"/><rect x="518.85" y="0" width="1.15" height="674" fill="#000"/></svg>
</div></body></html>
